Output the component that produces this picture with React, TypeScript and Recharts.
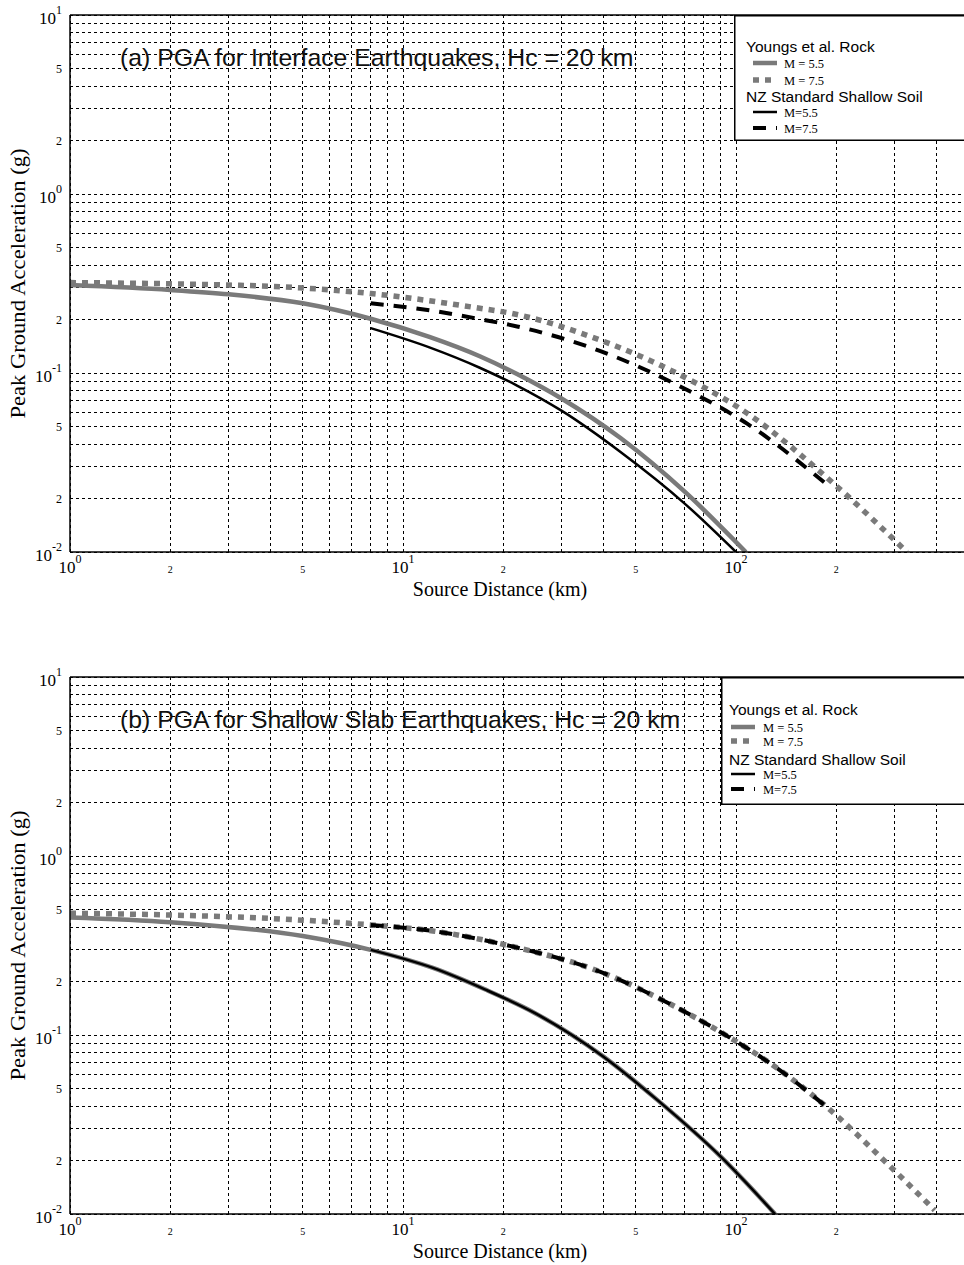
import React from 'react';
import {
  LineChart,
  Line,
  XAxis,
  YAxis,
  CartesianGrid,
  ReferenceLine,
  Legend,
  Label
} from 'recharts';

// axis ticks (every gridline) and which mantissas get a label
const xTicks = [1, 2, 3, 4, 5, 6, 7, 8, 9, 10, 20, 30, 40, 50, 60, 70, 80, 90, 100, 200, 300, 400, 500, 600, 700, 800, 900, 1000];
const yTicks = [0.01, 0.02, 0.03, 0.04, 0.05, 0.06, 0.07, 0.08, 0.09, 0.1, 0.2, 0.3, 0.4, 0.5, 0.6, 0.7, 0.8, 0.9, 1, 2, 3, 4, 5, 6, 7, 8, 9, 10];
const labelledMantissas = [1, 2, 5];

// (a) interface earthquakes
const intYoungs55Dist = [1, 2, 3, 5, 8, 12, 17, 22, 30, 45, 70, 107];
const intYoungs55Pga = [0.31, 0.291, 0.275, 0.245, 0.201, 0.159, 0.124, 0.0987, 0.0718, 0.0433, 0.0218, 0.01];
const intYoungs75Dist = [1, 2, 3, 4, 8, 17, 21, 39, 68, 108, 196, 326];
const intYoungs75Pga = [0.32, 0.315, 0.31, 0.305, 0.278, 0.23, 0.216, 0.153, 0.0975, 0.0596, 0.0242, 0.01];
const intNz55Dist = [8, 12, 17, 22, 30, 45, 70, 100];
const intNz55Pga = [0.178, 0.139, 0.107, 0.0851, 0.0614, 0.0362, 0.0187, 0.01];
const intNz75Dist = [8, 12, 17, 22, 39, 68, 108, 185];
const intNz75Pga = [0.245, 0.224, 0.2, 0.182, 0.133, 0.0841, 0.0521, 0.0243];

// (b) shallow slab earthquakes
const slabYoungs55Dist = [1, 2, 5, 8, 12.3, 17.6, 25, 40, 58, 90, 131];
const slabYoungs55Pga = [0.454, 0.427, 0.357, 0.299, 0.237, 0.18, 0.132, 0.0757, 0.0434, 0.0209, 0.01];
const slabYoungs75Dist = [1, 2, 5, 8, 12.3, 21.5, 39, 60, 93, 133, 187, 284, 395];
const slabYoungs75Pga = [0.479, 0.468, 0.438, 0.412, 0.381, 0.311, 0.226, 0.157, 0.1, 0.0652, 0.0397, 0.0192, 0.0105];
const slabNz55Dist = [8, 12.3, 17.6, 25, 40, 58, 90, 131];
const slabNz55Pga = [0.299, 0.237, 0.18, 0.132, 0.0757, 0.0434, 0.0209, 0.01];
const slabNz75Dist = [8, 12.3, 21.5, 39, 60, 93, 133, 187];
const slabNz75Pga = [0.412, 0.381, 0.311, 0.226, 0.157, 0.1, 0.0652, 0.0397];

const SERIF = '"Liberation Serif", "Times New Roman", serif';
const SANS = '"Liberation Sans", Arial, Helvetica, sans-serif';
const GRAY = '#7a7a7a';

const styles = {
  y55: { stroke: GRAY, width: 4.5, dash: undefined as string | undefined },
  y75: { stroke: GRAY, width: 5.5, dash: '6 6' },
  n55: { stroke: '#000', width: 2.5, dash: undefined as string | undefined },
  n75: { stroke: '#000', width: 4, dash: '13 10' }
};

const toPoints = (xs: number[], ys: number[]) => xs.map((x, i) => ({ x, y: ys[i] }));

const decompose = (v: number) => {
  const exp = Math.floor(Math.log10(v) + 1e-9);
  const m = Math.round(v / Math.pow(10, exp));
  return { exp, m };
};

const XTick = (props: any) => {
  const { x, y, payload } = props;
  const { exp, m } = decompose(payload.value);
  if (m === 1) {
    return (
      <text x={x} y={y + 21} textAnchor="middle" fontFamily={SERIF} fontSize={17} fill="#000">
        10<tspan dy={-10} fontSize={12}>{exp}</tspan>
      </text>
    );
  }
  if (!labelledMantissas.includes(m)) return <g />;
  return (
    <text x={x} y={y + 21} textAnchor="middle" fontFamily={SERIF} fontSize={10} fill="#000">
      {m}
    </text>
  );
};

const YTick = (props: any) => {
  const { y, payload } = props;
  const x = 62;
  const { exp, m } = decompose(payload.value);
  if (m === 1) {
    return (
      <text x={x} y={y + 9} textAnchor="end" fontFamily={SERIF} fontSize={17} fill="#000">
        10<tspan dy={-10} fontSize={12}>{exp}</tspan>
      </text>
    );
  }
  if (!labelledMantissas.includes(m)) return <g />;
  return (
    <text x={x} y={y + 4.5} textAnchor="end" fontFamily={SERIF} fontSize={12} fill="#000">
      {m}
    </text>
  );
};

interface Series {
  name: string;
  data: { x: number; y: number }[];
  stroke: string;
  width: number;
  dash?: string;
}

interface LegendLayout {
  left: number;
  top: number;
  height: number;
  headX: number;
  sampleX: number;
  labelX: number;
  rows: number[];
}

const LegendBox = ({ groups, layout }: { groups: { title: string; items: Series[] }[]; layout: LegendLayout }) => {
  const rows: React.ReactNode[] = [];
  let r = 0;
  groups.forEach((g, gi) => {
    rows.push(
      <text key={'h' + gi} x={layout.headX} y={layout.rows[r++]} fontFamily={SANS} fontSize={15.5} fill="#000">
        {g.title}
      </text>
    );
    g.items.forEach((s, si) => {
      const ly = layout.rows[r++];
      rows.push(
        <g key={'i' + gi + si}>
          <line
            x1={layout.sampleX}
            x2={layout.sampleX + 24}
            y1={ly}
            y2={ly}
            stroke={s.stroke}
            strokeWidth={s.width}
            strokeDasharray={s.dash}
          />
          <text x={layout.labelX} y={ly + 4.5} fontFamily={SERIF} fontSize={12.5} fill="#000">
            {s.name}
          </text>
        </g>
      );
    });
  });
  const h = layout.height;
  return (
    <svg width={300} height={h} style={{ display: 'block' }}>
      <rect x={0} y={0} width={300} height={h} fill="#fff" />
      <path d={`M300,0.75 H0.75 V${h - 0.75} H300`} fill="none" stroke="#000" strokeWidth={1.5} />
      {rows}
    </svg>
  );
};

interface PanelProps {
  title: string;
  series: Series[];
  legendLayout: LegendLayout;
  height: number;
  marginTop: number;
  marginBottom: number;
  xAxisHeight: number;
}

const Panel = ({ title, series, legendLayout, height, marginTop, marginBottom, xAxisHeight }: PanelProps) => {
  const groups = [
    { title: 'Youngs et al. Rock', items: series.slice(0, 2) },
    { title: 'NZ Standard Shallow Soil', items: series.slice(2, 4) }
  ];
  return (
    <LineChart width={1075} height={height} margin={{ top: marginTop, right: 6, bottom: marginBottom, left: 10 }}>
      <CartesianGrid stroke="#000" strokeDasharray="3 3" strokeWidth={1} shapeRendering="crispEdges" />
      <XAxis
        dataKey="x"
        type="number"
        scale="log"
        domain={[1, 1000]}
        ticks={xTicks}
        interval={0}
        allowDataOverflow
        tick={(p: any) => <XTick {...p} />}
        tickLine={false}
        tickSize={0}
        tickMargin={0}
        axisLine={{ stroke: '#000', strokeWidth: 1.5 }}
        height={xAxisHeight}
      >
        <Label
          content={(p: any) => (
            <text x={500} y={p.viewBox.y + 44} textAnchor="middle" fontFamily={SERIF} fontSize={20} fill="#000">
              Source Distance (km)
            </text>
          )}
        />
      </XAxis>
      <YAxis
        dataKey="y"
        type="number"
        scale="log"
        domain={[0.01, 10]}
        ticks={yTicks}
        interval={0}
        allowDataOverflow
        tick={(p: any) => <YTick {...p} />}
        tickLine={false}
        axisLine={{ stroke: '#000', strokeWidth: 1.5 }}
        width={60}
      >
        <Label
          content={(p: any) => {
            const cy = p.viewBox.y + p.viewBox.height / 2;
            return (
              <text
                x={18}
                y={cy}
                transform={`rotate(-90, 18, ${cy})`}
                textAnchor="middle"
                dominantBaseline="central"
                fontFamily={SERIF}
                fontSize={20}
                textLength={270}
                lengthAdjust="spacingAndGlyphs"
                fill="#000"
              >
                Peak Ground Acceleration (g)
              </text>
            );
          }}
        />
      </YAxis>
      <ReferenceLine y={10} stroke="#000" strokeWidth={1.5}>
        <Label
          content={(p: any) => (
            <text x={120} y={p.viewBox.y + 51} fontFamily={SANS} fontSize={24.8} fill="#111">
              {title}
            </text>
          )}
        />
      </ReferenceLine>
      {series.map(s => (
        <Line
          key={s.name + s.stroke}
          data={s.data}
          dataKey="y"
          name={s.name}
          type="monotone"
          stroke={s.stroke}
          strokeWidth={s.width}
          strokeDasharray={s.dash}
          dot={false}
          activeDot={false}
          isAnimationActive={false}
        />
      ))}
      <Legend
        layout="vertical"
        align="center"
        verticalAlign="middle"
        wrapperStyle={{ left: legendLayout.left, top: legendLayout.top, width: 300, height: legendLayout.height }}
        content={() => <LegendBox groups={groups} layout={legendLayout} />}
      />
    </LineChart>
  );
};

const mkSeries = (
  y55: [number[], number[]],
  y75: [number[], number[]],
  n55: [number[], number[]],
  n75: [number[], number[]]
): Series[] => [
  { name: 'M = 5.5', data: toPoints(y55[0], y55[1]), ...styles.y55 },
  { name: 'M = 7.5', data: toPoints(y75[0], y75[1]), ...styles.y75 },
  { name: 'M=5.5', data: toPoints(n55[0], n55[1]), ...styles.n55 },
  { name: 'M=7.5', data: toPoints(n75[0], n75[1]), ...styles.n75 }
];

const interfaceSeries = mkSeries(
  [intYoungs55Dist, intYoungs55Pga],
  [intYoungs75Dist, intYoungs75Pga],
  [intNz55Dist, intNz55Pga],
  [intNz75Dist, intNz75Pga]
);

const slabSeries = mkSeries(
  [slabYoungs55Dist, slabYoungs55Pga],
  [slabYoungs75Dist, slabYoungs75Pga],
  [slabNz55Dist, slabNz55Pga],
  [slabNz75Dist, slabNz75Pga]
);

export default function App() {
  return (
    <div
      style={{
        position: 'fixed',
        left: 0,
        top: 0,
        width: 964,
        height: 1265,
        overflow: 'hidden',
        background: '#fff'
      }}
    >
      <div style={{ position: 'absolute', left: 0, top: 0 }}>
        <Panel
          title="(a) PGA for Interface Earthquakes, Hc = 20 km"
          series={interfaceSeries}
          legendLayout={{ left: 734, top: 15, height: 126, headX: 12, sampleX: 19, labelX: 50, rows: [37, 48, 65, 87, 97, 113] }}
          height={640}
          marginTop={15}
          marginBottom={28}
          xAxisHeight={60}
        />
      </div>
      <div style={{ position: 'absolute', left: 0, top: 640 }}>
        <Panel
          title="(b) PGA for Shallow Slab Earthquakes, Hc = 20 km"
          series={slabSeries}
          legendLayout={{ left: 721, top: 37, height: 128, headX: 8, sampleX: 10, labelX: 42, rows: [38, 50, 64, 88, 97, 112] }}
          height={625}
          marginTop={37}
          marginBottom={0}
          xAxisHeight={51}
        />
      </div>
    </div>
  );
}
